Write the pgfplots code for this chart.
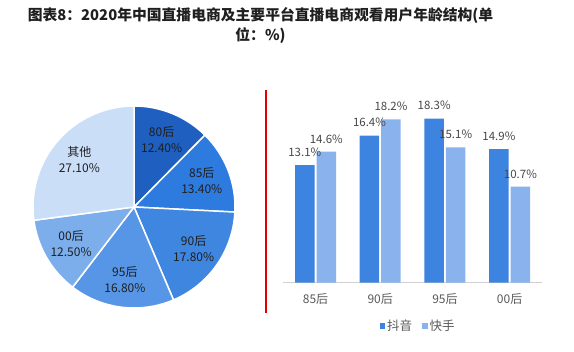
\documentclass[border=0pt]{standalone}
\usepackage{pgfplots}
\pgfplotsset{compat=1.18}
\usepackage{fontspec}
\setmainfont{Noto Sans CJK SC}
\definecolor{p1}{HTML}{1E5FC0}
\definecolor{p2}{HTML}{2E7BDF}
\definecolor{p3}{HTML}{3F86E0}
\definecolor{p4}{HTML}{5796E6}
\definecolor{p5}{HTML}{7DAEEC}
\definecolor{p6}{HTML}{CADEF8}
\definecolor{dy}{HTML}{3D83E0}
\definecolor{ks}{HTML}{8AB3EE}
\definecolor{rl}{rgb}{0.9,0,0}
\newcommand\pieslice[5]{%
  \fill[#3, draw=white, line width=1.5pt] (axis cs:0,0) -- (axis cs:{cos(#1)},{sin(#1)}) arc[start angle=#1, end angle={#1-3.6*#2}, radius=101pt] -- cycle;
  \node[align=center, font=\fontsize{12}{16}\selectfont, text=black!88] at (axis cs:{0.72*cos(#1-1.8*#2)},{0.72*sin(#1-1.8*#2)}) {#4\\#5\%};
}
\begin{document}
\begin{tikzpicture}
\path[use as bounding box] (0,0) rectangle (574pt,-352pt);
\node[font=\bfseries\fontsize{14.8}{17}\selectfont, text=black!88] at (260.5pt,-16pt) {图表8：2020年中国直播电商及主要平台直播电商观看用户年龄结构(单};
\node[font=\bfseries\fontsize{14.8}{17}\selectfont, text=black!88] at (260.5pt,-36pt) {位：\%)};
\fill[fill=rl] (264.9pt,-90pt) rectangle (266.6pt,-313pt);
% pie
\begin{axis}[at={(134pt,-207pt)}, anchor=center, scale only axis, x=101pt, y=101pt,
  xmin=-1.05, xmax=1.05, ymin=-1.05, ymax=1.05, hide axis, clip=false]
\pieslice{90}{12.4}{p1}{80后}{12.40}
\pieslice{45.36}{13.4}{p2}{85后}{13.40}
\pieslice{-2.88}{17.8}{p3}{90后}{17.80}
\pieslice{-66.96}{16.8}{p4}{95后}{16.80}
\pieslice{-127.44}{12.5}{p5}{00后}{12.50}
\pieslice{-172.44}{27.1}{p6}{其他}{27.10}
\end{axis}
% bars
\begin{axis}[at={(283.2pt,-282.7pt)}, anchor=south west, scale only axis,
  width=258.8pt, height=179.4pt, xmin=-0.5, xmax=3.5, ymin=0, ymax=20,
  axis y line=none, axis x line*=bottom,
  axis line style={draw=black!18, line width=0.8pt},
  xtick={0,1,2,3}, xticklabels={85后,90后,95后,00后},
  major tick length=0pt,
  xticklabel style={font=\fontsize{12}{14}\selectfont, text=black!65, yshift=-7pt},
  ybar=2pt, bar width=19.5pt,
  nodes near coords={\pgfmathprintnumber{\pgfplotspointmeta}\%},
  /pgf/number format/.cd, fixed, precision=1, fixed zerofill, assume math mode=true, /pgfplots/.cd,
  every node near coord/.append style={font=\fontsize{11.5}{13}\selectfont, text=black!72, yshift=5pt},
  legend style={at={(0.521,-0.241)}, anchor=center, draw=none, legend columns=2,
    font=\fontsize{12.5}{14}\selectfont, text=black!65,
    /tikz/every even column/.append style={column sep=8pt}},
  legend image code/.code={\fill[#1] (0pt,-3pt) rectangle (5.5pt,3pt);},
  clip=false]
\addplot[fill=dy, draw=none] coordinates {(0,13.1) (1,16.4) (2,18.3) (3,14.9)};
\addplot[fill=ks, draw=none] coordinates {(0,14.6) (1,18.2) (2,15.1) (3,10.7)};
\legend{抖音,快手}
\end{axis}
\end{tikzpicture}
\end{document}
